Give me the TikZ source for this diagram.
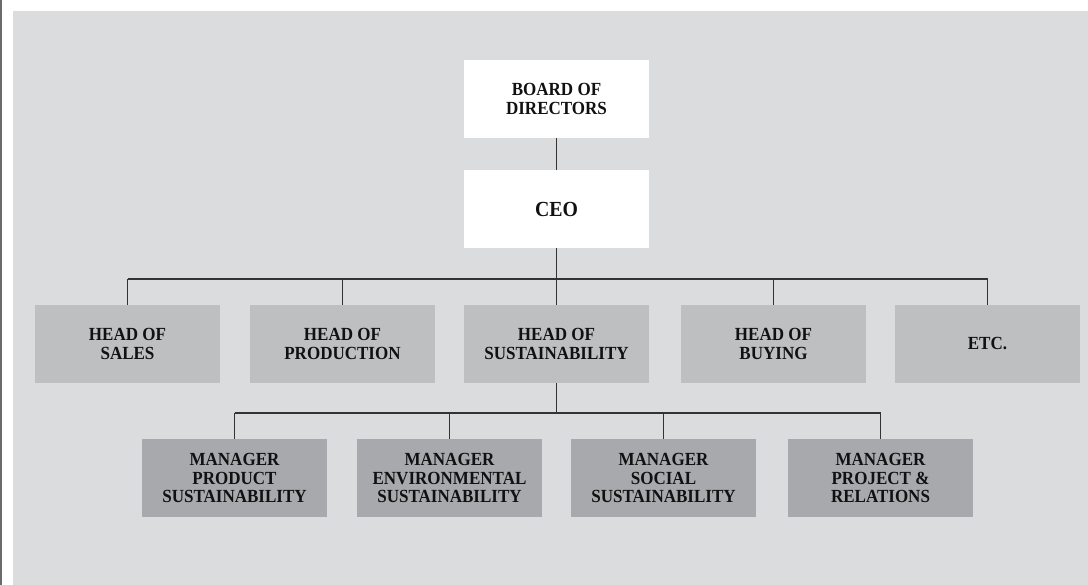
\documentclass[tikz,border=0pt]{standalone}
\usepackage{fontspec}
\setmainfont{Liberation Serif}
\newfontfamily\chartfont[FakeStretch=0.92]{Liberation Serif}
\usepackage{tikz}
\usetikzlibrary{positioning}
\definecolor{panelgray}{RGB}{219,220,222}
\definecolor{headgray}{RGB}{190,191,193}
\definecolor{managergray}{RGB}{168,169,172}
\definecolor{edgegray}{RGB}{107,107,107}
\definecolor{linkgray}{RGB}{51,51,51}
\definecolor{labelblack}{RGB}{17,17,17}

\tikzset{
  unit/.style={minimum width=185pt, minimum height=78pt, inner sep=0pt, align=center,
    text=labelblack, font=\chartfont\bfseries\fontsize{18.5}{18.8}\selectfont},
  topunit/.style={unit, fill=white},
  headunit/.style={unit, fill=headgray},
  managerunit/.style={unit, fill=managergray},
  link/.style={draw=linkgray, line width=1.1pt}
}

\begin{document}
\begin{tikzpicture}[x=1pt,y=-1pt]
    \useasboundingbox (0,0) rectangle (1088,585);
    % Panel and left edge
    \fill[edgegray] (0,0) rectangle (2,585);
    \fill[panelgray] (13,11) rectangle (1088,585);

    % Top of the chart
    \node[topunit] (board) at (556.5,99) {BOARD OF\\DIRECTORS};
    \node[topunit] (ceo) at (556.5,209) {\fontsize{21.5}{22}\selectfont CEO};

    % Heads
    \node[headunit] (sales) at (127.5,344) {HEAD OF\\SALES};
    \node[headunit] (prod) at (342.5,344) {HEAD OF\\PRODUCTION};
    \node[headunit] (sust) at (556.5,344) {HEAD OF\\SUSTAINABILITY};
    \node[headunit] (buy) at (773.5,344) {HEAD OF\\BUYING};
    \node[headunit] (etc) at (987.5,344) {ETC.};

    % Managers under sustainability
    \node[managerunit] (product) at (234.5,478) {MANAGER\\PRODUCT\\SUSTAINABILITY};
    \node[managerunit] (environ) at (449.5,478) {MANAGER\\ENVIRONMENTAL\\SUSTAINABILITY};
    \node[managerunit] (social) at (663.5,478) {MANAGER\\SOCIAL\\SUSTAINABILITY};
    \node[managerunit] (project) at (880.5,478) {MANAGER\\PROJECT \&\\RELATIONS};

    % Connectors
    \coordinate (headbus) at (556.5,279);
    \coordinate (managerbus) at (556.5,413);
    \draw[link] (board) -- (ceo);
    \draw[link] (ceo) -- (headbus);
    \draw[link] (sales.north |- headbus) -- (etc.north |- headbus);
    \foreach \n in {sales,prod,sust,buy,etc}
        \draw[link] (\n.north) -- (\n.north |- headbus);
    \draw[link] (sust) -- (managerbus);
    \draw[link] (product.north |- managerbus) -- (project.north |- managerbus);
    \foreach \n in {product,environ,social,project}
        \draw[link] (\n.north) -- (\n.north |- managerbus);
\end{tikzpicture}
\end{document}
